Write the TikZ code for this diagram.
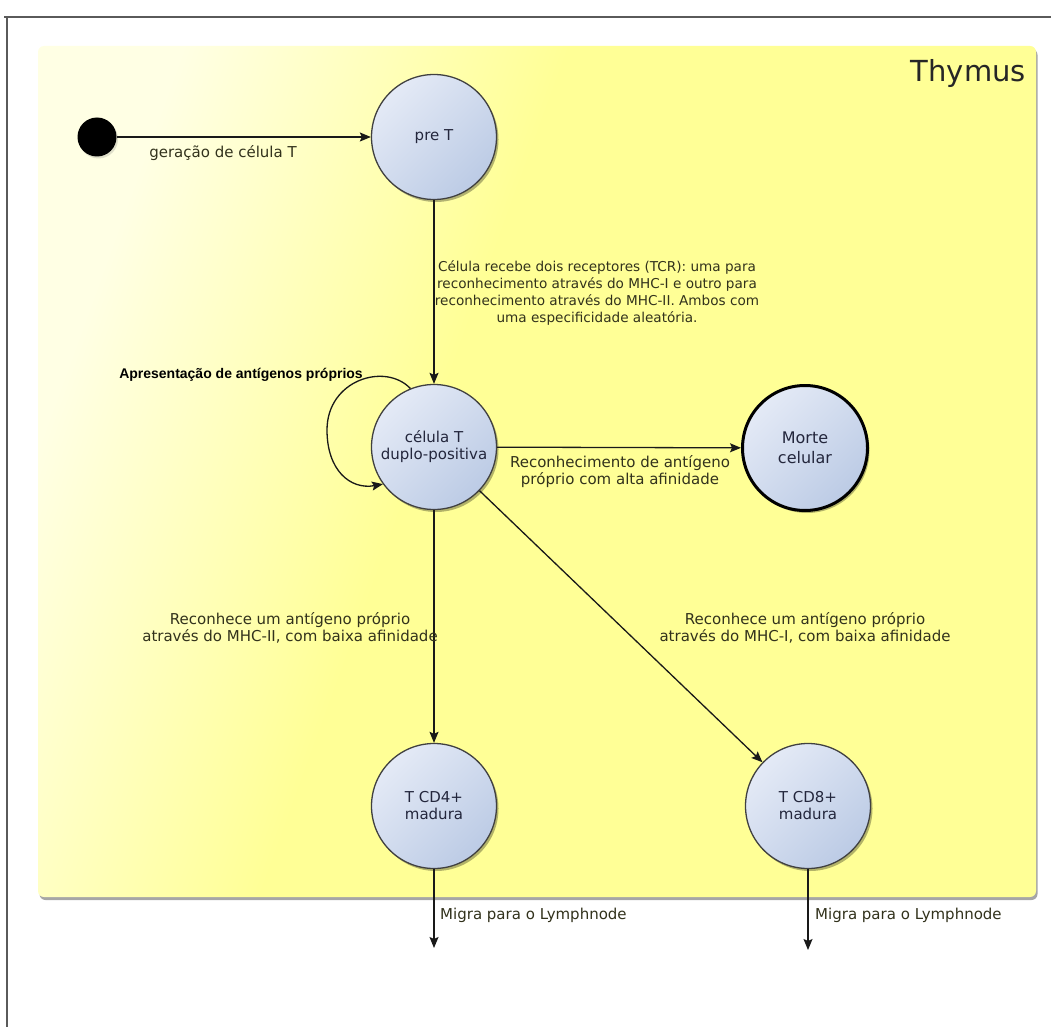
\documentclass[tikz,border=0pt]{standalone}
\usepackage{fontspec}
\setmainfont{DejaVu Sans}
\newfontfamily\boldarial{Liberation Sans}
\usetikzlibrary{arrows.meta,shadows,calc}

\definecolor{txt}{RGB}{50,50,28}
\definecolor{ntxt}{RGB}{35,38,60}
\definecolor{nodeA}{RGB}{228,234,246}
\definecolor{nodeB}{RGB}{188,203,229}
\definecolor{yel}{RGB}{255,255,150}
\definecolor{paleyel}{RGB}{255,255,228}
\definecolor{framec}{RGB}{90,90,90}

\pgfdeclarehorizontalshading{thyshade}{100bp}{color(0bp)=(paleyel); color(25bp)=(paleyel); color(44bp)=(yel); color(100bp)=(yel)}

\begin{document}
\begin{tikzpicture}[x=1pt,y=-1pt,
  state/.style={circle, draw=black!75, line width=1.3pt, minimum size=125pt, inner sep=0pt,
    align=center, top color=nodeA, bottom color=nodeB, shading angle=45,
    font=\fontsize{15}{17}\selectfont, text=ntxt,
    drop shadow={opacity=0.3, shadow xshift=2pt, shadow yshift=-2.5pt, fill=black}},
  deadstate/.style={state, draw=black, line width=3pt},
  lbl/.style={font=\fontsize{15}{17}\selectfont, text=txt, inner sep=0pt, align=center},
  boldlbl/.style={font=\boldarial\bfseries\fontsize{14}{16}\selectfont, text=black, inner sep=0pt},
  conn/.style={draw=black!90, line width=1.3pt, -{Stealth[length=11pt,width=9pt,inset=2pt]}}
]
\useasboundingbox (0,0) rectangle (1051,1027);
\fill[white] (0,0) rectangle (1051,1027);

% outer frame
\draw[framec, line width=1.6pt] (4,17) -- (1051,17);
\draw[framec, line width=1.6pt] (7,17) -- (7,1027);

% Thymus region
\path[shading=thyshade, shading angle=-20, rounded corners=6pt,
  drop shadow={opacity=0.35, shadow xshift=1.5pt, shadow yshift=-3pt, fill=black}]
  (38,46) rectangle (1036,897);
\node[font=\fontsize{29}{32}\selectfont, text=black!85, anchor=base east, inner sep=0pt]
  (thymus) at (1026,82) {Thymus};

% states
\node[circle, fill=black, minimum size=39pt, inner sep=0pt,
  drop shadow={opacity=0.25, shadow xshift=1.5pt, shadow yshift=-2pt}] (start) at (97,137) {};
\node[state] (pret) at (434,137) {pre T};
\node[state] (duplo) at (434,447) {célula T\\duplo-positiva};
\node[deadstate, font=\fontsize{16}{20}\selectfont] (morte) at (805,448) {Morte\\celular};
\node[state] (cd4) at (434,806) {T CD4+\\madura};
\node[state] (cd8) at (808,806) {T CD8+\\madura};

\coordinate (end4) at (434,948);
\coordinate (end8) at (808,950);

% connectors
\draw[conn] (start) -- (pret);
\draw[conn] (pret) -- (duplo);
\draw[conn] (duplo) -- (morte);
\draw[conn] (duplo) -- (cd4);
\draw[conn] (duplo) -- (cd8);
\draw[conn] (duplo.112) .. controls (385,362) and (327,380) .. (327,430)
  .. controls (327,470) and (350,490) .. (duplo.216);
\draw[conn] (cd4) -- (end4);
\draw[conn] (cd8) -- (end8);

% labels
\node[lbl] (lgen) at (223,153) {geração de célula T};
\node[lbl, font=\fontsize{13.6}{17}\selectfont] (ltcr) at (597,293) {Célula recebe dois receptores (TCR): uma para\\reconhecimento através do MHC-I e outro para\\reconhecimento através do MHC-II. Ambos com\\uma especificidade aleatória.};
\node[boldlbl] (lapr) at (241,375) {Apresentação de antígenos próprios};
\node[lbl] (lmorte) at (620,472) {Reconhecimento de antígeno\\próprio com alta afinidade};
\node[lbl] (lcd4) at (290,628) {Reconhece um antígeno próprio\\através do MHC-II, com baixa afinidade};
\node[lbl] (lcd8) at (805,628) {Reconhece um antígeno próprio\\através do MHC-I, com baixa afinidade};
\node[lbl, anchor=west] (lmig4) at (440,915) {Migra para o Lymphnode};
\node[lbl, anchor=west] (lmig8) at (815,915) {Migra para o Lymphnode};
\end{tikzpicture}
\end{document}
